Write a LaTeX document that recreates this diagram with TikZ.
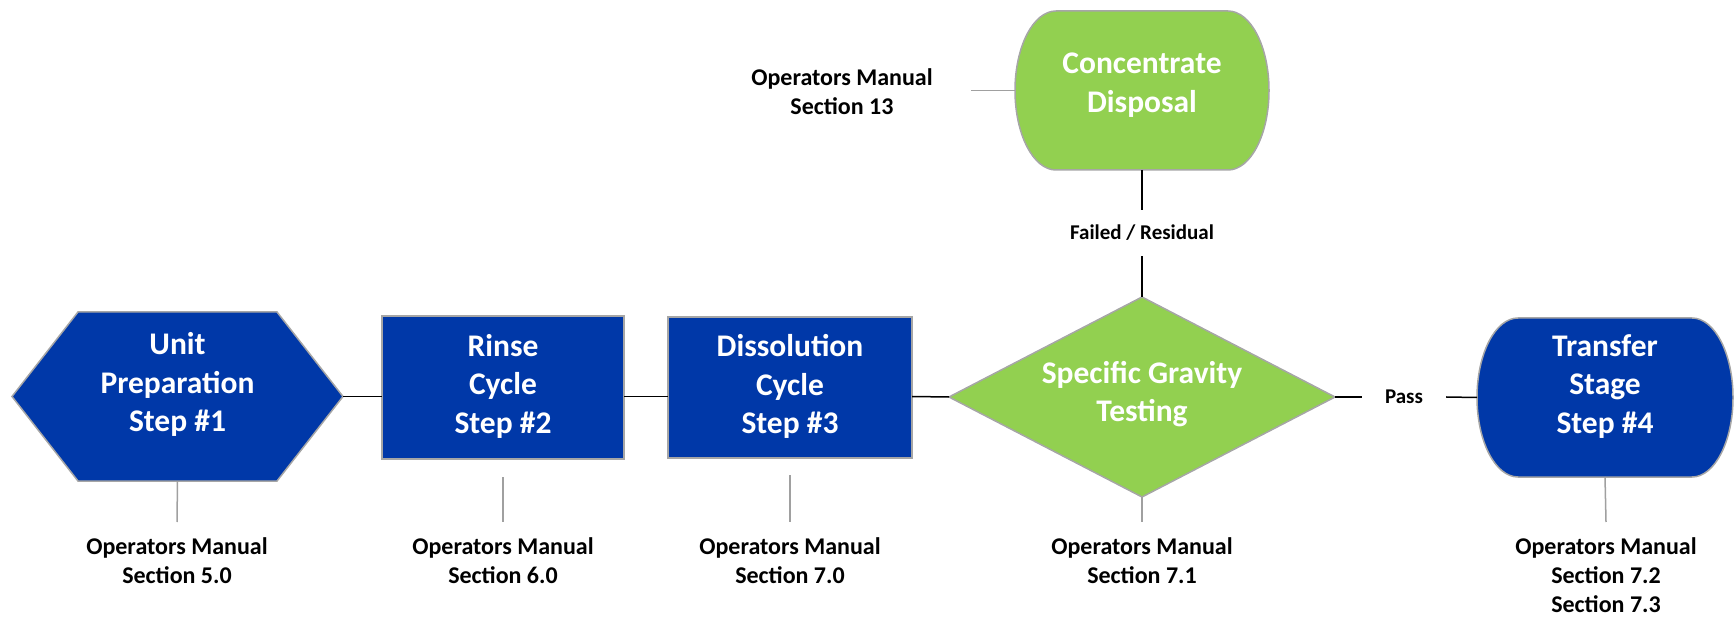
\documentclass[tikz,border=0pt]{standalone}
\usepackage{fontspec}
\setmainfont{Carlito}
\usetikzlibrary{shapes.geometric}
\definecolor{boxblue}{RGB}{0,56,168}
\definecolor{boxgreen}{RGB}{146,208,80}
\definecolor{edgegray}{RGB}{166,166,166}
\definecolor{linkgray}{RGB}{160,160,160}
\begin{document}
\begin{tikzpicture}[x=1pt,y=1pt,
  ghost/.style={rectangle, draw=none, inner sep=0pt, outer sep=0pt},
  rectbox/.style={rectangle, fill=boxblue, draw=edgegray, line width=1.5pt, inner sep=0pt, outer sep=0pt},
  diabox/.style={diamond, fill=boxgreen, draw=edgegray, line width=1.5pt, inner sep=0pt, outer sep=0pt, minimum width=386pt, minimum height=200pt},
  shapeline/.style={draw=edgegray, line width=1.5pt},
  boxtext/.style={text=white, font=\bfseries\fontsize{31.5}{38.5}\selectfont, align=center, inner sep=0pt},
  manual/.style={font=\bfseries\fontsize{24}{29}\selectfont, align=center, inner xsep=0pt, inner ysep=15pt, anchor=north},
  flowlabel/.style={font=\bfseries\fontsize{21}{25}\selectfont, inner sep=0pt},
  link/.style={draw=black, line width=1.5pt},
  glink/.style={draw=linkgray, line width=1.5pt}
]
\useasboundingbox (0,0) rectangle (1734,616);

% shapes
\node[ghost, minimum width=331pt, minimum height=169pt] (hex) at (177.5,219.5) {};
\filldraw[fill=boxblue, shapeline] (hex.west) -- ([xshift=66pt]hex.north west) -- ([xshift=-66pt]hex.north east) -- (hex.east) -- ([xshift=-66pt]hex.south east) -- ([xshift=66pt]hex.south west) -- cycle;

\node[rectbox, minimum width=242pt, minimum height=143pt] (rinse) at (503,228.5) {};
\node[rectbox, minimum width=244pt, minimum height=141pt] (dis) at (790,228.5) {};
\node[diabox] (sg) at (1142,219) {};

\node[ghost, minimum width=256pt, minimum height=159pt] (trans) at (1605,218.5) {};
\filldraw[fill=boxblue, shapeline] ([xshift=41pt]trans.north west) -- ([xshift=-41pt]trans.north east)
  arc[start angle=90, end angle=-90, x radius=41pt, y radius=79.5pt]
  -- ([xshift=41pt]trans.south west)
  arc[start angle=270, end angle=90, x radius=41pt, y radius=79.5pt] -- cycle;

\node[ghost, minimum width=254pt, minimum height=159pt] (conc) at (1142,525.5) {};
\filldraw[fill=boxgreen, shapeline] ([xshift=41pt]conc.north west) -- ([xshift=-41pt]conc.north east)
  arc[start angle=90, end angle=-90, x radius=41pt, y radius=79.5pt]
  -- ([xshift=41pt]conc.south west)
  arc[start angle=270, end angle=90, x radius=41pt, y radius=79.5pt] -- cycle;

% shape texts
\node[boxtext] (hexT) at (177.5,231.5) {Unit\\Preparation\\Step \#1};
\node[boxtext] (rinseT) at (503,229.8) {Rinse\\Cycle\\Step \#2};
\node[boxtext] (disT) at (790,229.5) {Dissolution\\Cycle\\Step \#3};
\node[boxtext] (sgT) at (1142,221.7) {Specific Gravity\\Testing};
\node[boxtext] (transT) at (1605,229.8) {Transfer\\Stage\\Step \#4};
\node[boxtext] (concT) at (1142,530.7) {Concentrate\\Disposal};

% flow labels
\node[flowlabel, minimum height=46pt] (fr) at (1142,383) {Failed / Residual};
\node[flowlabel, minimum width=84pt] (pass) at (1404,219) {Pass};

% manual labels
\node[manual] (m1) at (177,94) {Operators Manual\\Section 5.0};
\node[manual] (m2) at (503,94) {Operators Manual\\Section 6.0};
\node[manual] (m3) at (790,94) {Operators Manual\\Section 7.0};
\node[manual] (m4) at (1142,94) {Operators Manual\\Section 7.1};
\node[manual] (m5) at (1606,94) {Operators Manual\\Section 7.2\\Section 7.3};
\node[manual, inner xsep=38pt, inner ysep=0pt] (m13) at (842,548) {Operators Manual\\Section 13};

% connectors
\draw[link] (hex.east) -- (hex.east -| rinse.west);
\draw[link] (rinse.east |- hex.east) -- (dis.west |- hex.east);
\draw[link] (dis.east |- hex.east) -- (sg.west);
\draw[link] (sg.east) -- (pass.west);
\draw[link] (pass.east) -- (trans.west);
\draw[link] (conc.south) -- (fr.north);
\draw[link] (fr.south) -- (sg.north);

\draw[glink] (hex.south) -- (m1.north);
\draw[glink] ([yshift=-18pt]rinse.south) -- (m2.north);
\draw[glink] ([yshift=-17pt]dis.south) -- (m3.north);
\draw[glink] (sg.south) -- (m4.north);
\draw[glink] (trans.south) -- (m5.north);
\draw[glink] (conc.west -| m13.east) -- (conc.west);
\end{tikzpicture}
\end{document}
